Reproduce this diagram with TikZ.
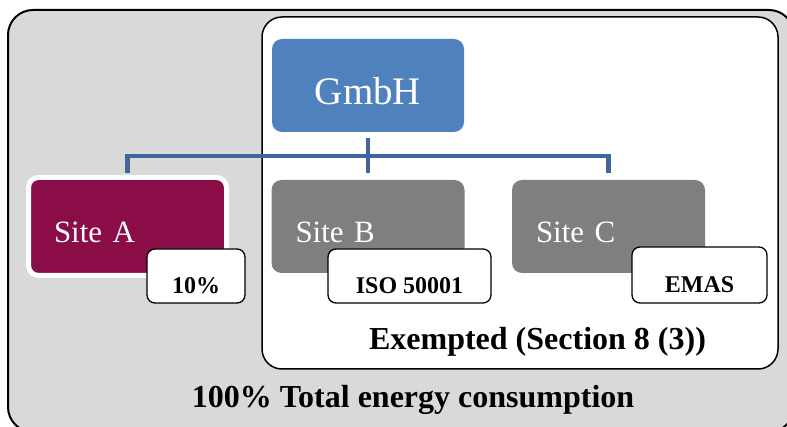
\documentclass[tikz,border=0pt]{standalone}
\usepackage{fontspec}
\setmainfont{Liberation Serif}
\usepackage{tikz}
\usepackage{xcolor}
\usetikzlibrary{positioning,calc}
\definecolor{Panel}{HTML}{D9D9D9}
\definecolor{Corp}{HTML}{4F81BD}
\definecolor{Link}{HTML}{41679A}
\definecolor{Plum}{HTML}{8A0D48}
\definecolor{Stone}{HTML}{7F7F7F}
\begin{document}
\begin{tikzpicture}[x=1pt,y=-1pt,
  frame/.style={rounded corners=25pt,draw=black,line width=2pt,fill=Panel},
  zone/.style={rounded corners=20pt,draw=black,line width=1.5pt,fill=white},
  corp/.style={rounded corners=10pt,fill=Corp,text=white,minimum width=192pt,minimum height=93pt,font=\fontsize{39}{44}\selectfont,text height=39pt,text depth=0pt},
  site/.style={rounded corners=10pt,text=white,minimum height=93pt,text width=145pt,inner xsep=24pt,align=left,font=\fontsize{31}{36}\selectfont,text height=33pt,text depth=0pt},
  badge/.style={rounded corners=8pt,draw=black,line width=1.3pt,fill=white,minimum height=54pt,font=\fontsize{24}{28}\selectfont\bfseries,text height=36pt,text depth=0pt},
  caption/.style={font=\fontsize{32}{36}\selectfont\bfseries,inner sep=0pt},
  link/.style={draw=Link,line width=4.5pt}
]
\clip (0,0) rectangle (787,427);
\useasboundingbox (0,0) rectangle (787,427);
\draw[frame] (8,10) rectangle (794,432);
\draw[zone] (262,17) rectangle (778,369);
% structure
\node[corp] (gmbh) at (368,85.5) {GmbH};
\coordinate (bar) at (368,156);
\node[site,fill=Plum,draw=white,line width=5pt,minimum height=98pt,inner xsep=25.5pt,text width=147pt] (siteA) at (127.5,226.5) {Site A};
\node[site,fill=Stone] (siteB) at (368,226.5) {Site B};
\node[site,fill=Stone] (siteC) at (608.5,226.5) {Site C};
\draw[link] ([yshift=-6pt]gmbh.south) -- ([yshift=7pt]siteB.north);
\draw[link] ([yshift=2pt]siteA.north) |- (bar) -| ([yshift=7pt]siteC.north);
% certificates
\node[badge,minimum width=98pt] (shareA) at (196,276) {10\%};
\node[badge,minimum width=163pt] (isoB) at (409.5,276) {ISO 50001};
\node[badge,minimum width=135pt,minimum height=56pt] (emasC) at (699.5,275) {EMAS};
% captions
\node[caption,anchor=base] (exempt) at (537.5,350) {Exempted (Section 8 (3))};
\node[caption,anchor=base] (total) at (413,407) {100\% Total energy consumption};
\end{tikzpicture}
\end{document}
